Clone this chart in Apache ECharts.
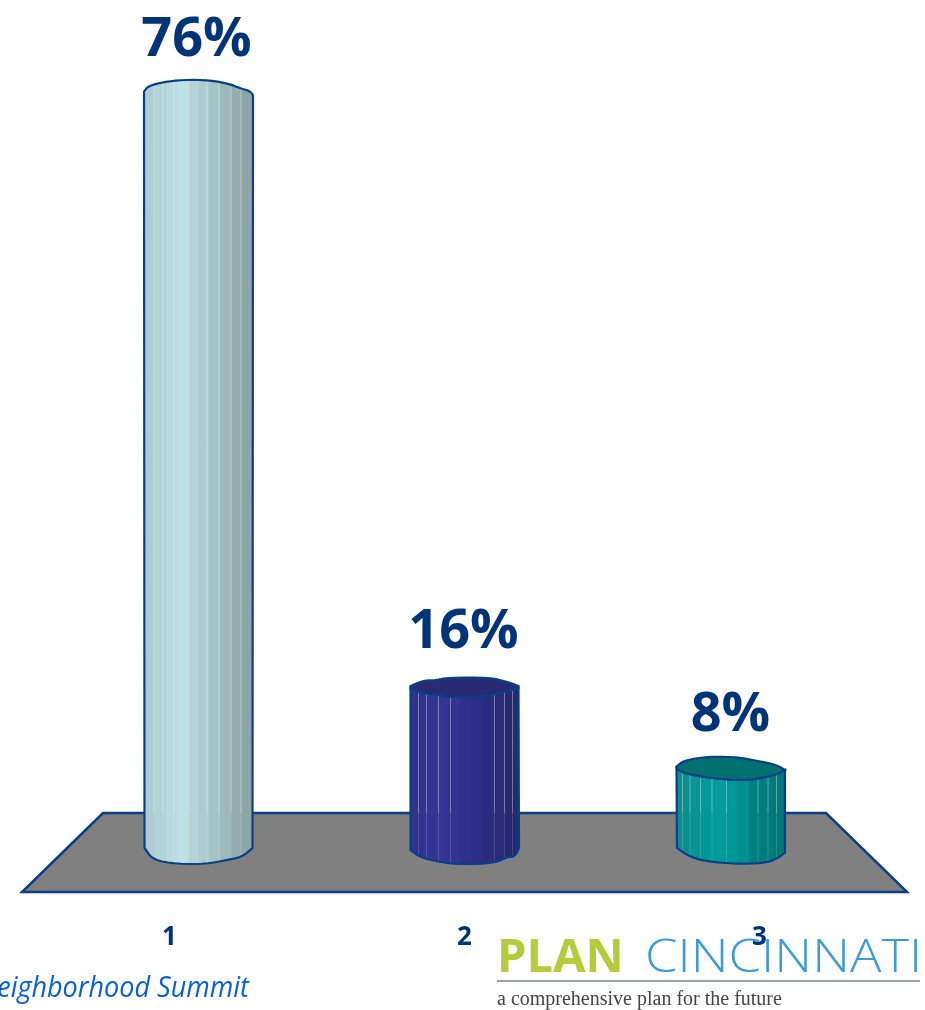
<!DOCTYPE html>
<html><head><meta charset="utf-8">
<style>html,body{margin:0;padding:0;background:#fff}#c{width:925px;height:1010px}</style>
<script src="https://cdn.jsdelivr.net/npm/echarts@6/dist/echarts.min.js"></script>
</head><body><div id="c"></div>
<script>
const categories = ['1','2','3'];
const percentValues = [76,16,8];
const bandColors = [
 ['#adcdd0','#b2d3d6','#b8dbdf','#bde2e6','#b3d5d8','#abcdd0','#a4c4c6','#9cb9bb','#93acae','#8ea6a8'],
 ['#313190','#343496','#353598','#333394','#30308c','#2e2e86','#2c2c7c','#2a2a76','#292972'],
 ['#0b8f8f','#069494','#029898','#009b9b','#009999','#009090','#008080','#007c7c','#007878']
];
const topColors = [null,'#2a2a72','#007170'];
const lineXs = [
 [-44.5,-35.5,-24.5,-9.5,8.5,20.5,32.5,42.5],
 [-46,-38,-26,-14,30,40,48],
 [-48,-40.5,-30,-18.5,-4,27.5,37.5,46]
];
const topEdges = [
 [[-54.5,-3],[-50.5,-8.6],[-35.5,-12.6],[-15.5,-15],[11.5,-14.6],[31.5,-10.6],[41.5,-6.6],[51.5,-3.6],[54.5,0.4]],
 [[-54,-5],[-41.5,-10.3],[-27.5,-11],[-16.5,-13.3],[25.5,-13.3],[42.5,-9.3],[54,-5]],
 [[-54,-3.8],[-47.5,-9.5],[-27.5,-13.5],[2.5,-13.8],[26.5,-9.8],[46.5,-5.5],[54.5,-0.5]]
];
const frontEdges = [
 null,
 [[-54,-2],[-41.5,2],[-26.5,4],[-14.5,6],[15.5,6],[35.5,2],[54,-3]],
 [[-54,-2.5],[-47.5,2.5],[-20.5,7.5],[12.5,10.2],[36.5,6.5],[49.5,2.5],[54.5,-0.5]]
];
const bottomEdges = [
 [[-54,-2],[-45.5,10],[-21.5,14],[7.5,14],[28.5,10],[43.5,7],[54,-2]],
 [[-54,0],[-43,8],[-14.5,14],[15.5,14],[32.5,12],[42.5,7],[50.5,6.7],[54.5,-2]],
 [[-53.5,-2],[-40.5,7],[-20.5,12],[12.5,14],[36.5,12.7],[47.5,8],[54.5,2.7]]
];
const labelLift = [54,58,55];
const labelShift = [-2,-1,0];

const NAVY='#003478', EDGE='#0a3f86', FLOOR_TOP=813, FLOOR_BOTTOM=892, FLOOR_INSET=0.0915;

function bandGradient(colors){
  const n=colors.length, stops=[];
  colors.forEach((c,i)=>{stops.push({offset:i/n,color:c});stops.push({offset:(i+1)/n,color:c});});
  return new echarts.graphic.LinearGradient(0,0,1,0,stops);
}
// Chaikin corner rounding for the hand-drawn cylinder outlines
function rounded(pts){
  let p=pts;
  for(let k=0;k<2;k++){
    const out=[p[0]];
    for(let i=0;i<p.length-1;i++){
      const a=p[i],b=p[i+1];
      out.push([a[0]*.75+b[0]*.25,a[1]*.75+b[1]*.25]);
      out.push([a[0]*.25+b[0]*.75,a[1]*.25+b[1]*.75]);
    }
    out.push(p[p.length-1]);
    p=out;
  }
  return p;
}
function edgeY(pts,x){
  for(let i=0;i<pts.length-1;i++){
    const a=pts[i],b=pts[i+1];
    if(x>=a[0]&&x<=b[0]) return a[1]+(b[1]-a[1])*(x-a[0])/(b[0]-a[0]);
  }
  return pts[pts.length-1][1];
}
function renderFloor(params,api){
  const r=params.coordSys, inset=r.width*FLOOR_INSET;
  return {type:'polygon',shape:{points:[[r.x+inset,r.y],[r.x+r.width-inset,r.y],[r.x+r.width,r.y+r.height],[r.x,r.y+r.height]]},
    style:{fill:'#808080',stroke:EDGE,lineWidth:2.5}};
}
function renderCylinder(params,api){
  const i=params.dataIndex;
  const top=api.coord([api.value(0),api.value(1)]);
  const base=api.coord([api.value(0),0]);
  const cx=top[0];
  const T=rounded(topEdges[i]).map(p=>[cx+p[0],top[1]+p[1]]);
  const frontSrc=frontEdges[i]||topEdges[i];
  const F=rounded(frontSrc).map(p=>[cx+p[0],top[1]+p[1]]);
  const B=rounded(bottomEdges[i]).map(p=>[cx+p[0],base[1]+p[1]]).reverse();
  const side=F.concat(B);
  const kids=[{type:'polygon',shape:{points:side},style:{fill:bandGradient(bandColors[i])}}];
  lineXs[i].forEach(dx=>{
    const y0=top[1]+edgeY(frontSrc,dx), y1=base[1]+edgeY(bottomEdges[i],dx)-1;
    kids.push({type:'line',shape:{x1:cx+dx,y1:y0,x2:cx+dx,y2:FLOOR_TOP},style:{stroke:'rgba(255,255,255,0.36)',lineWidth:1}});
    kids.push({type:'line',shape:{x1:cx+dx,y1:FLOOR_TOP,x2:cx+dx,y2:y1},style:{stroke:'rgba(255,255,255,0.14)',lineWidth:1}});
  });
  kids.push({type:'polygon',shape:{points:side},style:{fill:'none',stroke:EDGE,lineWidth:2.2}});
  if(topColors[i]){
    kids.push({type:'polygon',shape:{points:T.concat(F.slice().reverse())},style:{fill:topColors[i],stroke:EDGE,lineWidth:2.2}});
  }
  kids.push({type:'text',style:{text:api.value(1)+'%',x:cx+labelShift[i],y:top[1]-labelLift[i],align:'center',verticalAlign:'middle',
    font:'700 54px "Open Sans"',fill:NAVY}});
  return {type:'group',children:kids};
}

const chart=echarts.init(document.getElementById('c'),null,{renderer:'canvas',width:925,height:1010});
chart.setOption({
  animation:false,backgroundColor:'#fff',
  grid:[{left:65.5,width:798,top:55,height:795},{left:22,width:885,top:FLOOR_TOP,height:FLOOR_BOTTOM-FLOOR_TOP}],
  xAxis:[
    {type:'category',gridIndex:0,data:categories,show:false},
    {type:'category',gridIndex:1,data:categories,axisLine:{show:false},axisTick:{show:false},
     axisLabel:{margin:33,fontFamily:'Open Sans',fontWeight:700,fontSize:26,color:NAVY}}
  ],
  yAxis:[
    {type:'value',gridIndex:0,min:0,max:80,show:false,splitLine:{show:false}},
    {type:'value',gridIndex:1,min:0,max:1,show:false,splitLine:{show:false}}
  ],
  series:[
    {type:'custom',xAxisIndex:1,yAxisIndex:1,z:1,clip:false,silent:true,renderItem:renderFloor,data:[[0,0]]},
    {type:'custom',xAxisIndex:0,yAxisIndex:0,z:2,clip:false,silent:true,renderItem:renderCylinder,encode:{x:0,y:1},
     data:percentValues.map((v,i)=>[i,v])}
  ],
  graphic:[
    {type:'text',z:5,x:249,y:988,scaleX:0.9,style:{text:'Neighborhood Summit',x:0,y:0,align:'right',verticalAlign:'middle',font:'italic 500 30px "Open Sans"',fill:'#0a5fd8',shadowColor:'rgba(0,0,0,0.35)',shadowBlur:1,shadowOffsetX:1,shadowOffsetY:1}},
    {type:'text',z:1,x:497,y:959,style:{text:'PLAN',x:0,y:0,align:'left',verticalAlign:'middle',font:'700 47px "Open Sans"',fill:'#b5cc3a'}},
    {type:'text',z:1,x:645,y:959,scaleX:1.14,style:{text:'CINCINNATI',x:0,y:0,align:'left',verticalAlign:'middle',font:'300 46px "Open Sans"',fill:'#3a9bd5'}},
    {type:'rect',z:1,shape:{x:497,y:980,width:423,height:2},style:{fill:'#9a9fb0'}},
    {type:'text',z:1,x:497,y:1000,style:{text:'a comprehensive plan for the future',x:0,y:0,align:'left',verticalAlign:'middle',font:'400 20px "Liberation Serif"',fill:'#444'}}
  ]
});
</script></body></html>
